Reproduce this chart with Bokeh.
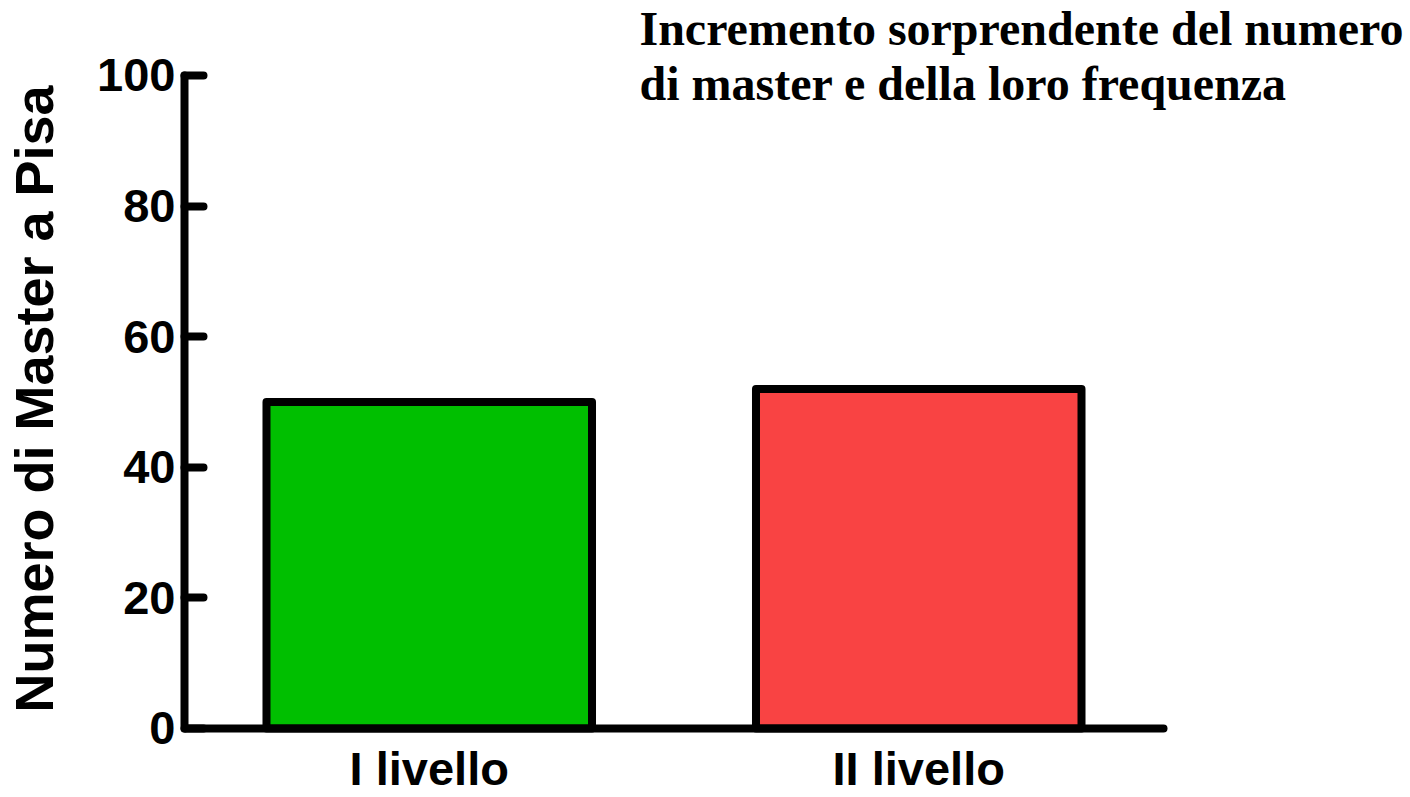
from bokeh.plotting import figure
from bokeh.models import Range1d, FixedTicker, Label, ColumnDataSource
from bokeh.core.properties import value
from bokeh.embed import file_html
from bokeh.resources import INLINE

categories = ["I livello", "II livello"]
values = [50, 52]
colors = ["#00BF00", "#F94343"]
y_ticks = [0, 20, 40, 60, 80, 100]
y_label = "Numero di Master a Pisa"
title_lines = ["Incremento sorprendente del numero", "di master e della loro frequenza"]

positions = [i + 1 for i in range(len(categories))]

W, H = 1410, 797
p = figure(width=W, height=H,
           x_range=Range1d(0.5, 3.0046),
           y_range=Range1d(-10.567, 111.485),
           output_backend="svg", toolbar_location=None,
           min_border_left=184, min_border_right=0,
           min_border_top=0, min_border_bottom=0)

src = ColumnDataSource(dict(x=positions, val=values, col=colors, cat=categories,
                            base=[0] * len(categories)))
p.vbar(x="x", top="val", width=0.665, source=src, fill_color="col",
       line_color="black", line_width=8, line_join="round")

# category names under the baseline
p.text(x="x", y="base", text="cat", source=src, y_offset=40,
       text_align="center", text_baseline="alphabetic",
       text_font=value("Liberation Sans"), text_font_style="bold",
       text_font_size="47px", text_color="black")

p.grid.visible = False
p.outline_line_color = None
p.background_fill_color = "white"
p.border_fill_color = "white"

for ax in (p.xaxis[0], p.yaxis[0]):
    ax.axis_line_width = 8
    ax.axis_line_color = "black"
    ax.axis_line_cap = "round"
    ax.minor_tick_line_color = None

xa = p.xaxis[0]
xa.fixed_location = 0
xa.bounds = (0.5, 2.5)
xa.ticker = FixedTicker(ticks=[])
xa.major_tick_line_color = None
xa.major_tick_in = 0
xa.major_tick_out = 0
xa.major_label_standoff = 0
xa.major_label_text_color = None

ya = p.yaxis[0]
ya.bounds = (0, 100)
ya.ticker = FixedTicker(ticks=y_ticks)
ya.major_tick_in = 19
ya.major_tick_out = 0
ya.major_tick_line_width = 8
ya.major_tick_line_color = "black"
ya.major_tick_line_cap = "round"
ya.major_label_standoff = 9
ya.major_label_text_font = "Liberation Sans"
ya.major_label_text_font_style = "bold"
ya.major_label_text_font_size = "47px"
ya.major_label_text_color = "black"
ya.axis_label = y_label
ya.axis_label_text_font = "Liberation Sans"
ya.axis_label_text_font_style = "bold"
ya.axis_label_text_font_size = "54px"
ya.axis_label_text_color = "black"
ya.axis_label_standoff = 30

for txt, yy in zip(title_lines, [107.197, 98.775]):
    p.add_layout(Label(x=1.4295, y=yy, text=txt, text_font="Liberation Serif",
                       text_font_style="bold", text_font_size="48px",
                       text_color="black", text_baseline="alphabetic"))

open("out.html", "w").write(file_html(p, INLINE))
